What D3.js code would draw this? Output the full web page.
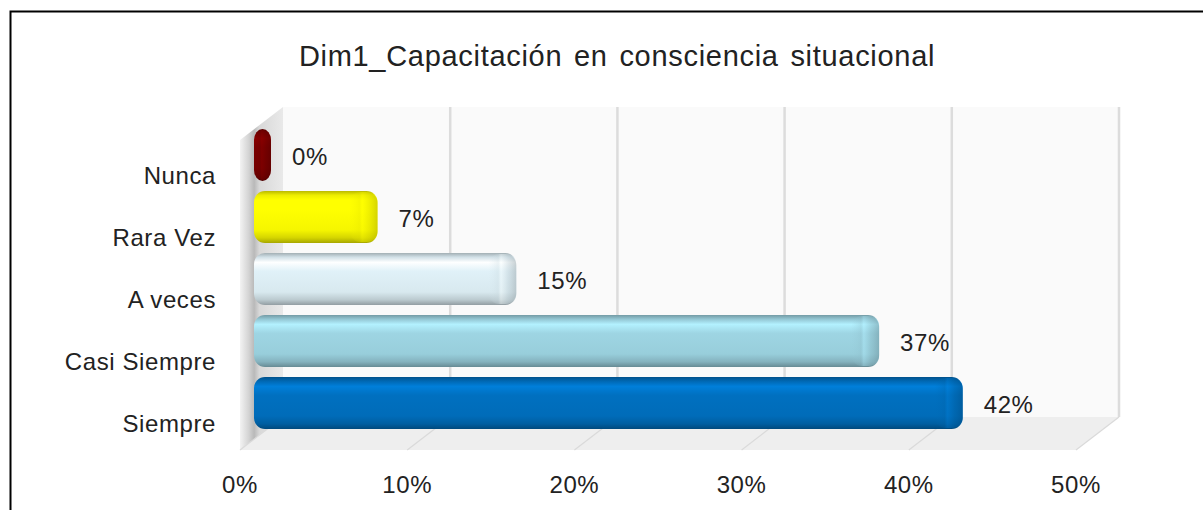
<!DOCTYPE html>
<html>
<head>
<meta charset="utf-8">
<script src="https://cdn.jsdelivr.net/npm/d3@7"></script>
<style>
  html, body { margin: 0; padding: 0; background: #fff; }
  svg { display: block; font-family: "Liberation Sans", Arial, sans-serif; }
</style>
</head>
<body>
<svg id="chart" width="1203" height="510"></svg>
<script>
// chart data
const title = "Dim1_Capacitación en consciencia situacional";
const categories = ["Nunca", "Rara Vez", "A veces", "Casi Siempre", "Siempre"];
const values = [0, 6.7, 15, 36.7, 41.7]; // percent
const barColors = ["#7a0000", "#ffff00", "#e0f1f8", "#9ed5e3", "#0070c0"];
const ticks = [0, 10, 20, 30, 40, 50];

const W = 1203, H = 510;
const svg = d3.select("#chart");
const defs = svg.append("defs");

// 3D box: back wall plane + depth offset towards the viewer
const depth = { dx: -43, dy: 33 };
const x = d3.scaleLinear().domain([0, 50]).range([283, 1119]);
const y = d3.scaleBand().domain(categories).range([107, 417]).paddingInner(0).paddingOuter(0);
const fmt = (v) => `${Math.round(v)}%`;
const textColor = "#222";

// outer frame (right/bottom edges run off the picture)
svg.append("rect")
  .attr("x", 10.5).attr("y", 11.5)
  .attr("width", W).attr("height", H)
  .attr("fill", "#fff").attr("stroke", "#000").attr("stroke-width", 2);

svg.append("text")
  .attr("x", 617).attr("y", 66)
  .attr("text-anchor", "middle")
  .attr("font-size", 29)
  .attr("letter-spacing", 0.7)
  .attr("word-spacing", 3)
  .attr("fill", textColor)
  .text(title);

const [x0, x1] = x.range();
const [y0, y1] = y.range();

// back wall
svg.append("rect")
  .attr("x", x0).attr("y", y0)
  .attr("width", x1 - x0).attr("height", y1 - y0)
  .attr("fill", "#fafafa");

// floor
svg.append("polygon")
  .attr("points", [[x0, y1], [x1, y1], [x1 + depth.dx, y1 + depth.dy], [x0 + depth.dx, y1 + depth.dy]].join(" "))
  .attr("fill", "#eeeeee");

// left wall
const wallGrad = defs.append("linearGradient")
  .attr("id", "wallGrad")
  .attr("gradientUnits", "userSpaceOnUse")
  .attr("x1", x0 + depth.dx).attr("x2", x0).attr("y1", 0).attr("y2", 0);
[[0, "#f3f3f3"], [0.2, "#d4d4d4"], [0.33, "#b9b9b9"], [0.45, "#d8d8d8"], [1, "#e9e9e9"]]
  .forEach(([o, c]) => wallGrad.append("stop").attr("offset", o).attr("stop-color", c));
svg.append("polygon")
  .attr("points", [[x0 + depth.dx, y0 + depth.dy], [x0, y0], [x0, y1], [x0 + depth.dx, y1 + depth.dy]].join(" "))
  .attr("fill", "url(#wallGrad)");

// gridlines on back wall and floor
const grid = svg.append("g");
grid.selectAll("line.back")
  .data(ticks.filter((t) => t > 0))
  .join("line")
  .attr("class", "back")
  .attr("x1", (d) => x(d)).attr("x2", (d) => x(d))
  .attr("y1", y0).attr("y2", y1)
  .attr("stroke", "#dcdcdc").attr("stroke-width", 2.5);
grid.selectAll("line.floor")
  .data(ticks)
  .join("line")
  .attr("class", "floor")
  .attr("x1", (d) => x(d)).attr("y1", y1)
  .attr("x2", (d) => x(d) + depth.dx).attr("y2", y1 + depth.dy)
  .attr("stroke", "#dadada").attr("stroke-width", 1.2);

// bar gradients: vertical shading for the rounded 3D look
barColors.forEach((c, i) => {
  const base = d3.color(c);
  const g = defs.append("linearGradient")
    .attr("id", `bar${i}`)
    .attr("x1", 0).attr("x2", 0).attr("y1", 0).attr("y2", 1);
  [
    [0, base.darker(0.9)],
    [0.08, base.darker(0.2)],
    [0.18, base.brighter(0.35)],
    [0.35, base],
    [0.75, base.darker(0.1)],
    [0.9, base.darker(0.5)],
    [1, base.darker(1.2)],
  ].forEach(([o, col]) => g.append("stop").attr("offset", o).attr("stop-color", col.formatHex()));

  const e = defs.append("linearGradient")
    .attr("id", `end${i}`)
    .attr("x1", 0).attr("x2", 1).attr("y1", 0).attr("y2", 0);
  [
    [0, base.darker(0.15), 0],
    [0.35, base.darker(0.3), 0.6],
    [0.45, base.brighter(0.3), 0.7],
    [0.7, base.darker(0.4), 0.8],
    [1, base.darker(1.0), 1],
  ].forEach(([o, col, op]) => e.append("stop").attr("offset", o).attr("stop-color", col.formatHex()).attr("stop-opacity", op));
});

const barH = 52;
const barShift = { x: -17.5, y: 17 }; // bars sit part way into the depth
const barStart = x(0) - 29;
const barEnd = (v) => Math.max(x(v) + barShift.x, barStart + 17);
const barY = (c) => y(c) + y.bandwidth() / 2 + barShift.y - barH / 2;

const bars = svg.append("g")
  .selectAll("g")
  .data(categories.map((c, i) => ({ c, v: values[i], i })))
  .join("g");

bars.append("rect")
  .attr("x", barStart)
  .attr("y", (d) => barY(d.c))
  .attr("width", (d) => barEnd(d.v) - barStart)
  .attr("height", barH)
  .attr("rx", 11)
  .attr("fill", (d) => `url(#bar${d.i})`);

bars.append("rect")
  .attr("x", (d) => Math.max(barStart, barEnd(d.v) - 28))
  .attr("y", (d) => barY(d.c) + 1)
  .attr("width", (d) => Math.min(28, barEnd(d.v) - barStart))
  .attr("height", barH - 2)
  .attr("rx", 11)
  .attr("fill", (d) => `url(#end${d.i})`)
  .attr("opacity", 0.55);

// value labels
svg.append("g")
  .selectAll("text")
  .data(categories.map((c, i) => ({ c, v: values[i] })))
  .join("text")
  .attr("x", (d) => barEnd(d.v) + 21)
  .attr("y", (d) => barY(d.c) + barH / 2 + 10)
  .attr("font-size", 24)
  .attr("letter-spacing", 0.6)
  .attr("fill", textColor)
  .text((d) => fmt(d.v));

// category axis labels
svg.append("g")
  .selectAll("text")
  .data(categories)
  .join("text")
  .attr("x", 216)
  .attr("y", (d) => y(d) + y.bandwidth() / 2 + depth.dy + 13)
  .attr("text-anchor", "end")
  .attr("font-size", 24)
  .attr("letter-spacing", 0.6)
  .attr("fill", textColor)
  .text((d) => d);

// value axis tick labels on the front edge of the floor
svg.append("g")
  .selectAll("text")
  .data(ticks)
  .join("text")
  .attr("x", (d) => x(d) + depth.dx)
  .attr("y", 493)
  .attr("text-anchor", "middle")
  .attr("font-size", 24)
  .attr("letter-spacing", 0.6)
  .attr("fill", textColor)
  .text((d) => `${d}%`);
</script>
</body>
</html>
